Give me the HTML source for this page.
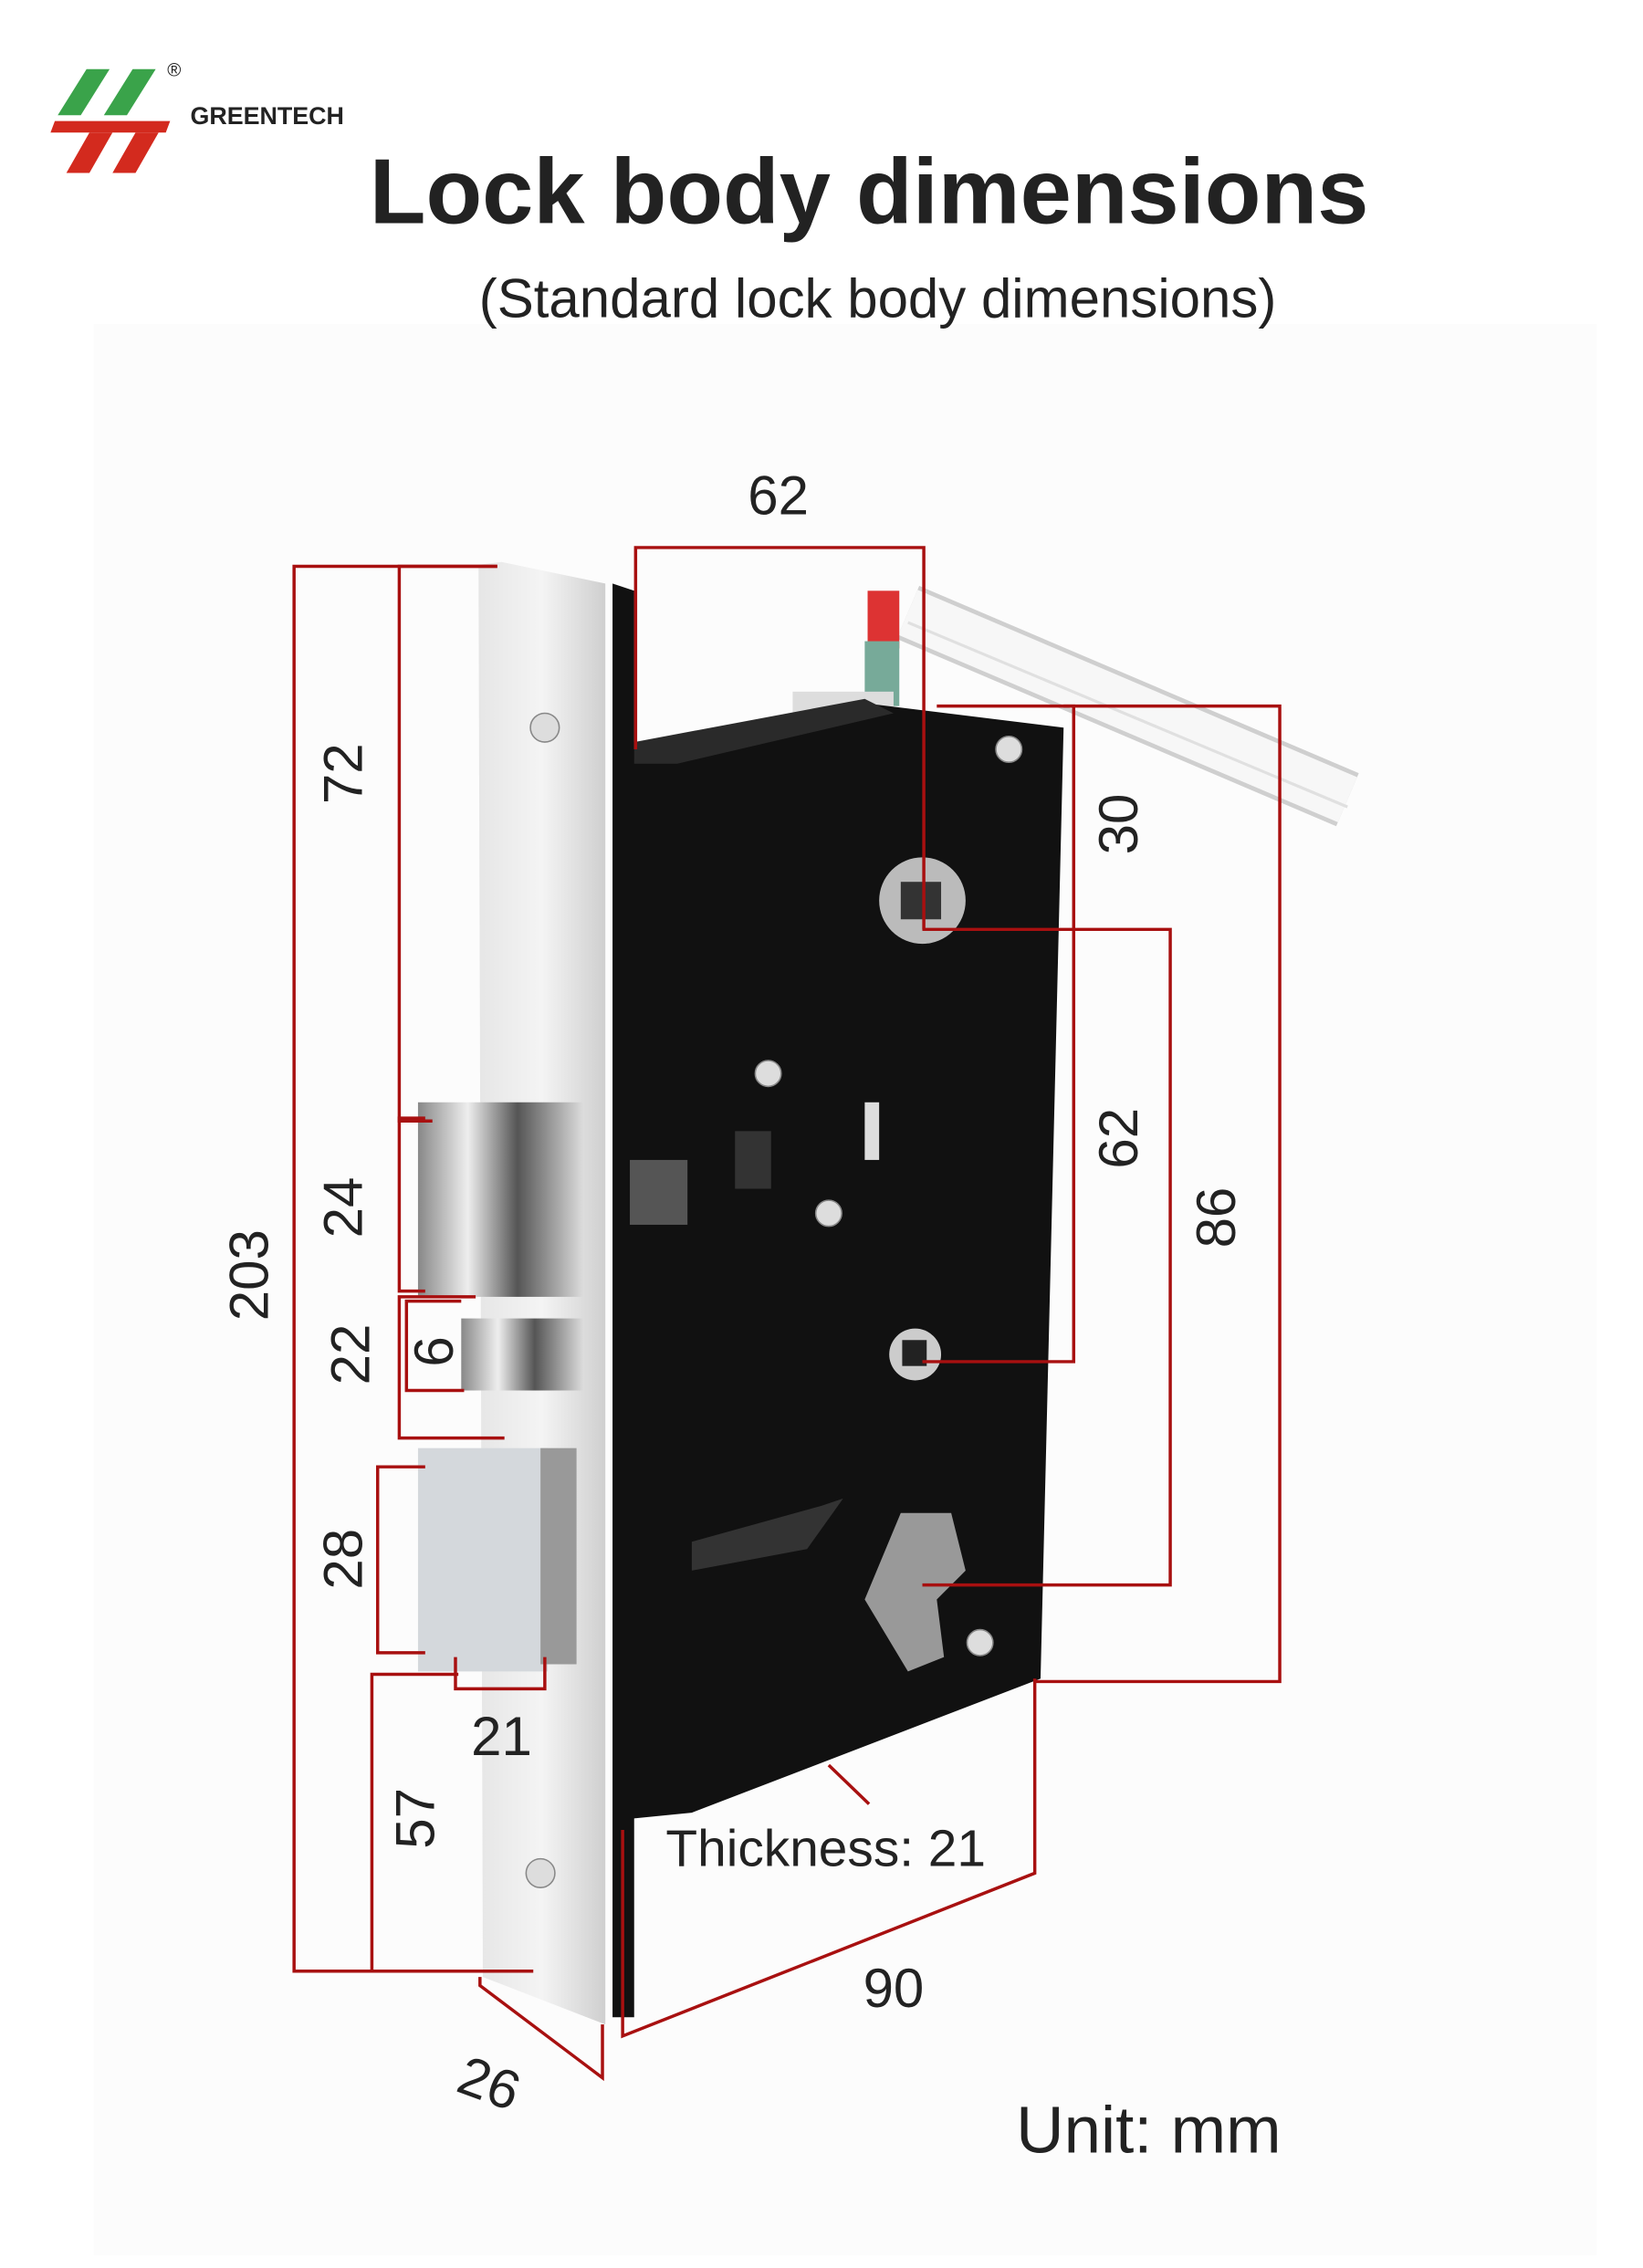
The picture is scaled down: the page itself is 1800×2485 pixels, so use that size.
<!DOCTYPE html>
<html><head><meta charset="utf-8"><style>
html,body{margin:0;padding:0;background:#fff;}
svg{display:block;}
text{font-family:"Liberation Sans",sans-serif;fill:#222;}
</style></head><body>
<svg width="1800" height="2485" viewBox="0 0 1140 1574" xmlns="http://www.w3.org/2000/svg">
<defs>
<linearGradient id="fp" x1="0" x2="1"><stop offset="0" stop-color="#e6e6e6"/><stop offset="0.5" stop-color="#f4f4f4"/><stop offset="1" stop-color="#cfcfcf"/></linearGradient>
<linearGradient id="ch" x1="0" x2="1"><stop offset="0" stop-color="#888"/><stop offset="0.3" stop-color="#eee"/><stop offset="0.6" stop-color="#555"/><stop offset="1" stop-color="#ddd"/></linearGradient>
</defs>
<rect x="0" y="0" width="1140" height="1574" fill="#fff"/>
<rect x="65" y="225" width="1043" height="1340" fill="#fcfcfc"/>
<!-- logo -->
<polygon points="60,48 76,48 56,80 40,80" fill="#3aa34a"/>
<polygon points="92,48 108,48 88,80 72,80" fill="#3aa34a"/>
<polygon points="38,84 118,84 115,92 35,92" fill="#d32a1e"/>
<polygon points="62,92 78,92 62,120 46,120" fill="#d32a1e"/>
<polygon points="94,92 110,92 94,120 78,120" fill="#d32a1e"/>
<text x="132" y="86" font-size="17" font-weight="bold" fill="#333">GREENTECH</text>
<text x="116" y="53" font-size="13" fill="#333">®</text>
<text x="603" y="155" font-size="64" font-weight="bold" text-anchor="middle" fill="#333">Lock body dimensions</text>
<text x="609" y="220" font-size="38" text-anchor="middle" fill="#333">(Standard lock body dimensions)</text>
<!-- cable -->
<path d="M630,425 L935,555" stroke="#cfcfcf" stroke-width="40" fill="none"/>
<path d="M630,425 L935,555" stroke="#f7f7f7" stroke-width="34" fill="none"/>
<path d="M630,432 L935,560" stroke="#e0e0e0" stroke-width="2" fill="none"/>
<rect x="602" y="410" width="22" height="40" fill="#d33"/>
<rect x="600" y="445" width="24" height="45" fill="#7a9"/>
<rect x="550" y="480" width="70" height="20" fill="#ddd"/>
<!-- body -->
<polygon points="425,405 440,410 440,520 600,488 738,505 722,1165 480,1258 440,1262 440,1400 425,1400" fill="#111"/>
<polygon points="440,515 600,485 620,495 470,530 440,530" fill="#2a2a2a"/>
<!-- faceplate -->
<polygon points="332,392 348,390 420,405 420,1405 335,1372" fill="url(#fp)"/>
<!-- screws -->
<g fill="#ddd" stroke="#888"><circle cx="378" cy="505" r="10"/><circle cx="375" cy="1300" r="10"/><circle cx="700" cy="520" r="9"/><circle cx="533" cy="745" r="9"/><circle cx="575" cy="842" r="9"/><circle cx="680" cy="1140" r="9"/></g>
<circle cx="640" cy="625" r="30" fill="#bbb"/><rect x="625" y="612" width="28" height="26" fill="#333"/>
<circle cx="635" cy="940" r="18" fill="#ccc"/><rect x="626" y="930" width="17" height="18" fill="#222"/>
<path d="M625,1050 L660,1050 L670,1090 L650,1110 L655,1150 L630,1160 L600,1110 Z" fill="#999"/>
<rect x="600" y="765" width="10" height="40" fill="#ddd"/>
<rect x="510" y="785" width="25" height="40" fill="#333"/>
<rect x="437" y="805" width="40" height="45" fill="#555"/>
<polygon points="480,1070 570,1045 585,1040 560,1075 480,1090" fill="#333"/>
<!-- latches -->
<rect x="290" y="765" width="115" height="135" fill="url(#ch)"/>
<rect x="320" y="915" width="85" height="50" fill="url(#ch)"/>
<rect x="290" y="1005" width="90" height="155" fill="#d4d8dc"/>
<rect x="375" y="1005" width="25" height="150" fill="#999"/>
<!-- dimension lines -->
<g stroke="#a81010" stroke-width="2.2" fill="none">
<polyline points="441,520 441,380 641,380 641,645"/>
<polyline points="650,490 888,490 888,1167 718,1167"/>
<polyline points="640,645 812,645 812,1100 640,1100"/>
<polyline points="738,490 745,490 745,945 640,945"/>
<polyline points="345,393 204,393 204,1368 370,1368"/>
<polyline points="345,393 277,393 277,778 300,778"/>
<polyline points="295,776 277,776 277,896 295,896"/>
<polyline points="330,900 277,900 277,998 350,998"/>
<polyline points="320,903 282,903 282,965 322,965"/>
<polyline points="295,1018 262,1018 262,1147 295,1147"/>
<polyline points="316,1150 316,1172 378,1172 378,1150"/>
<polyline points="318,1162 258,1162 258,1368"/>
<polyline points="718,1165 718,1300 432,1413 432,1270"/>
<polyline points="333,1372 333,1378 418,1442 418,1405"/>
<line x1="575" y1="1225" x2="603" y2="1252"/>
</g>
<g font-size="38">
<text x="540" y="357" text-anchor="middle">62</text>
<text transform="translate(789,572) rotate(-90)" text-anchor="middle">30</text>
<text transform="translate(789,790) rotate(-90)" text-anchor="middle">62</text>
<text transform="translate(857,845) rotate(-90)" text-anchor="middle">86</text>
<text transform="translate(186,885) rotate(-90)" text-anchor="middle">203</text>
<text transform="translate(251,537) rotate(-90)" text-anchor="middle">72</text>
<text transform="translate(251,838) rotate(-90)" text-anchor="middle">24</text>
<text transform="translate(256,940) rotate(-90)" text-anchor="middle">22</text>
<text transform="translate(314,938) rotate(-90)" text-anchor="middle">6</text>
<text transform="translate(251,1082) rotate(-90)" text-anchor="middle">28</text>
<text transform="translate(301,1262) rotate(-90)" text-anchor="middle">57</text>
<text x="348" y="1218" text-anchor="middle">21</text>
<text x="620" y="1393" text-anchor="middle">90</text>
<text transform="translate(335,1458) rotate(20)" text-anchor="middle">26</text>
</g>
<text x="573" y="1295" font-size="36" text-anchor="middle">Thickness: 21</text>
<text x="797" y="1494" font-size="46" text-anchor="middle">Unit: mm</text>
</svg>
</body></html>
